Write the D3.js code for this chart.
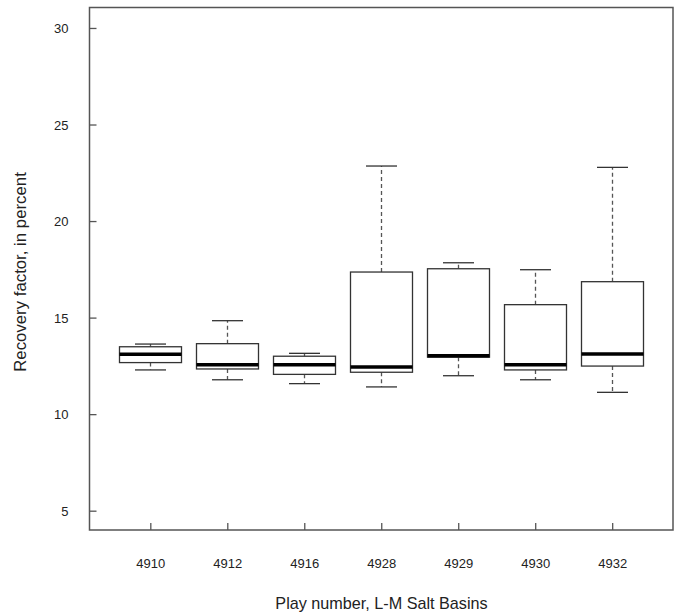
<!DOCTYPE html>
<html>
<head>
<meta charset="utf-8">
<script src="https://cdn.jsdelivr.net/npm/d3@7"></script>
<style>
  html, body { margin: 0; padding: 0; background: #fff; }
  svg { display: block; font-family: Arial, "Liberation Sans", sans-serif; }
</style>
</head>
<body>
<svg id="chart" width="681" height="615"></svg>
<script>
// Play numbers and five-number summaries of recovery factor (percent)
const plays    = ["4910", "4912", "4916", "4928", "4929", "4930", "4932"];
const lowCaps  = [12.29, 11.78, 11.58, 11.41, 11.99, 11.78, 11.13];
const q1s      = [12.67, 12.34, 12.06, 12.17, 12.95, 12.29, 12.49];
const medians  = [13.10, 12.56, 12.56, 12.44, 13.03, 12.56, 13.12];
const q3s      = [13.49, 13.65, 13.00, 17.36, 17.53, 15.67, 16.86];
const highCaps = [13.63, 14.84, 13.15, 22.85, 17.84, 17.48, 22.78];
const yTicks   = [5, 10, 15, 20, 25, 30];

const boxes = plays.map((p, i) => ({
  play: p, lo: lowCaps[i], q1: q1s[i], med: medians[i], q3: q3s[i], hi: highCaps[i]
}));

const svg = d3.select("#chart");
const plot = { left: 89.5, right: 673, top: 7.5, bottom: 530 };

const x = d3.scalePoint().domain(plays)
  .range([plot.left, plot.right]).padding(0.79);
const y = d3.scaleLinear().domain([4.0, 31.06]).range([plot.bottom, plot.top]);

const boxW = 62, capW = 31;
const frameColor = "#555";

// Boxes and whiskers
const g = svg.append("g");
boxes.forEach(d => {
  const cx = Math.round(x(d.play)) + 0.5;
  // whiskers
  g.append("line").attr("x1", cx).attr("x2", cx)
    .attr("y1", y(d.q3)).attr("y2", y(d.hi))
    .attr("stroke", "#555").attr("stroke-width", 1.3).attr("stroke-dasharray", "4,3");
  g.append("line").attr("x1", cx).attr("x2", cx)
    .attr("y1", y(d.q1)).attr("y2", y(d.lo))
    .attr("stroke", "#555").attr("stroke-width", 1.3).attr("stroke-dasharray", "4,3");
  // caps
  [d.hi, d.lo].forEach(v => {
    g.append("line").attr("x1", cx - capW / 2).attr("x2", cx + capW / 2)
      .attr("y1", y(v)).attr("y2", y(v))
      .attr("stroke", "#333").attr("stroke-width", 1.3);
  });
  // box
  g.append("rect").attr("x", cx - boxW / 2).attr("width", boxW)
    .attr("y", y(d.q3)).attr("height", y(d.q1) - y(d.q3))
    .attr("fill", "#fff").attr("stroke", "#333").attr("stroke-width", 1.3);
  // median
  g.append("line").attr("x1", cx - boxW / 2).attr("x2", cx + boxW / 2)
    .attr("y1", y(d.med)).attr("y2", y(d.med))
    .attr("stroke", "#000").attr("stroke-width", 3.5);
});

// Axes with inward ticks
const yAxis = svg.append("g").attr("transform", `translate(${plot.left},0)`)
  .call(d3.axisRight(y).tickValues(yTicks).tickSize(7).tickFormat(d3.format("d")));
yAxis.select(".domain").remove();
yAxis.selectAll(".tick line").attr("stroke", frameColor).attr("stroke-width", 1.3);
yAxis.selectAll(".tick text").attr("x", -21).attr("text-anchor", "end")
  .attr("font-size", 13).attr("fill", "#222").attr("dy", "0.35em");

const xAxis = svg.append("g").attr("transform", `translate(0,${plot.bottom})`)
  .call(d3.axisTop(x).tickSize(7));
xAxis.select(".domain").remove();
xAxis.selectAll(".tick line").attr("stroke", frameColor).attr("stroke-width", 1.3);
xAxis.selectAll(".tick text").attr("y", 33).attr("dy", "0.35em")
  .attr("font-size", 13).attr("fill", "#222");

// Frame
svg.append("rect")
  .attr("x", plot.left).attr("y", plot.top)
  .attr("width", plot.right - plot.left).attr("height", plot.bottom - plot.top)
  .attr("fill", "none").attr("stroke", frameColor).attr("stroke-width", 1.5);

// Titles
svg.append("text").attr("x", 381.5).attr("y", 603).attr("dy", "0.35em")
  .attr("text-anchor", "middle").attr("font-size", 16.2).attr("fill", "#222")
  .text("Play number, L-M Salt Basins");
svg.append("text").attr("transform", "translate(20,272) rotate(-90)")
  .attr("dy", "0.35em").attr("text-anchor", "middle").attr("font-size", 16.8).attr("fill", "#222")
  .text("Recovery factor, in percent");
</script>
</body>
</html>
